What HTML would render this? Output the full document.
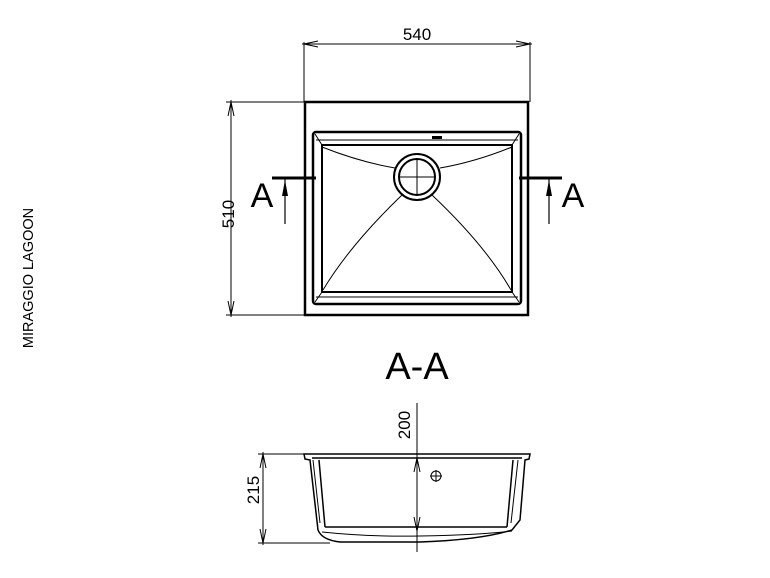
<!DOCTYPE html>
<html><head><style>body{margin:0;background:#fff}svg{display:block}</style></head><body>
<svg width="770" height="578" viewBox="0 0 770 578" xmlns="http://www.w3.org/2000/svg" font-family="Liberation Sans, sans-serif">
<g stroke="#000" fill="none">
<line x1="304" y1="42" x2="304" y2="102" stroke-width="1"/>
<line x1="530" y1="42" x2="530" y2="102" stroke-width="1"/>
<line x1="302" y1="44" x2="532" y2="44" stroke-width="1"/>
<path d="M304 44 L318 41 M304 44 L318 47 M530 44 L516 41 M530 44 L516 47" stroke-width="1"/>
<line x1="226" y1="102" x2="305" y2="102" stroke-width="1"/>
<line x1="226" y1="315" x2="305" y2="315" stroke-width="1"/>
<line x1="231" y1="100" x2="231" y2="317" stroke-width="1"/>
<path d="M231 102 L228 116 M231 102 L234 116 M231 315 L228 301 M231 315 L234 301" stroke-width="1"/>
<rect x="305" y="102" width="223" height="213" stroke-width="2.5"/>
<rect x="313" y="132" width="208" height="172" rx="3" stroke-width="2.5"/>
<rect x="322" y="145" width="190" height="147" stroke-width="2"/>
<path d="M315 134 L322 145 M519 134 L512 145 M315 302 L322 292 M519 302 L512 292" stroke-width="1"/>
<line x1="316" y1="140" x2="518" y2="140" stroke-width="1"/>
<line x1="316" y1="297" x2="518" y2="297" stroke-width="1"/>
<rect x="432" y="136" width="10" height="3" fill="#000" stroke="none"/>
<path d="M322 147 Q360 162 395 168" stroke-width="1"/>
<path d="M512 147 Q475 162 440 168" stroke-width="1"/>
<path d="M402 195 Q350 245 323 290" stroke-width="1"/>
<path d="M432 195 Q485 245 511 290" stroke-width="1"/>
<circle cx="417" cy="177" r="23" stroke-width="2"/>
<circle cx="417" cy="177" r="18" stroke-width="2"/>
<line x1="399" y1="177" x2="435" y2="177" stroke-width="1"/>
<line x1="417" y1="159" x2="417" y2="195" stroke-width="1"/>
<line x1="272" y1="178" x2="316" y2="178" stroke-width="3"/>
<line x1="285" y1="178" x2="285" y2="224" stroke-width="1.2"/>
<path d="M285 180 L282 196 L288 196 Z" fill="#000" stroke="none"/>
<line x1="519" y1="178" x2="562" y2="178" stroke-width="3"/>
<line x1="549" y1="178" x2="549" y2="224" stroke-width="1.2"/>
<path d="M549 180 L546 196 L552 196 Z" fill="#000" stroke="none"/>
<line x1="258" y1="454" x2="306" y2="454" stroke-width="1"/>
<line x1="258" y1="543" x2="330" y2="543" stroke-width="1"/>
<line x1="263" y1="452" x2="263" y2="545" stroke-width="1"/>
<path d="M263 454 L260 468 M263 454 L266 468 M263 543 L260 529 M263 543 L266 529" stroke-width="1"/>
<line x1="417" y1="403" x2="417" y2="552" stroke-width="1"/>
<path d="M417 458 L414 472 M417 458 L420 472 M417 531 L414 517 M417 531 L420 517" stroke-width="1"/>
<path d="M304 454 L530 454 L529 459 L525 460 L520 520 L512 530 Q480 540 420 542 L340 542 Q322 540 318 530 L310 460 L305 459 Z" stroke-width="1.5"/>
<line x1="312" y1="458" x2="522" y2="458" stroke-width="1.5"/>
<path d="M313 460 L320 523 M518 460 L511 523" stroke-width="1"/>
<path d="M319 460 L325 527 M513 460 L507 527" stroke-width="1.5"/>
<line x1="325" y1="527" x2="507" y2="527" stroke-width="1.5"/>
<path d="M322 532 Q370 537 420 536 Q480 535 512 531" stroke-width="1"/>
<circle cx="436" cy="476" r="5" stroke-width="1"/>
<path d="M430 476 H442 M436 470 V482" stroke-width="1"/>
</g>
<g fill="#000">
<text x="417" y="40" font-size="17" text-anchor="middle">540</text>
<text transform="translate(234,214) rotate(-90)" font-size="17" text-anchor="middle">510</text>
<text x="262" y="207" font-size="34" text-anchor="middle">A</text>
<text x="573" y="207" font-size="34" text-anchor="middle">A</text>
<text x="417" y="379" font-size="38" text-anchor="middle">A-A</text>
<text transform="translate(410,425) rotate(-90)" font-size="17" text-anchor="middle">200</text>
<text transform="translate(259,490) rotate(-90)" font-size="17" text-anchor="middle">215</text>
<text transform="translate(33,278) rotate(-90)" font-size="14.5" text-anchor="middle">MIRAGGIO LAGOON</text>
</g>
</svg>
</body></html>
